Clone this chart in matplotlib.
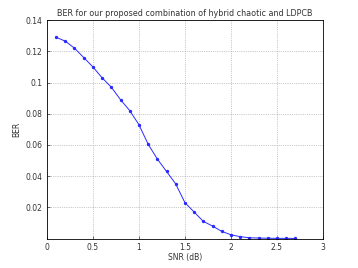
"""
Curva BER vs SNR (estilo MATLAB)
"""
import matplotlib
matplotlib.use('Agg')
import matplotlib.pyplot as plt

snr = [0.1, 0.2, 0.3, 0.4, 0.5, 0.6, 0.7, 0.8, 0.9, 1.0,
       1.1, 1.2, 1.3, 1.4, 1.5, 1.6, 1.7, 1.8, 1.9, 2.0,
       2.1, 2.2, 2.3, 2.4, 2.5, 2.6, 2.7]
ber = [0.129, 0.1265, 0.122, 0.116, 0.110, 0.103, 0.097, 0.089, 0.082, 0.073,
       0.0605, 0.051, 0.043, 0.035, 0.023, 0.017, 0.011, 0.008, 0.0046, 0.0024,
       0.0012, 0.0005, 0.0003, 0.0002, 0.0001, 0.0001, 0.00005]

xticks = [0, 0.5, 1, 1.5, 2, 2.5, 3]
yticks = [0.02, 0.04, 0.06, 0.08, 0.1, 0.12, 0.14]

fig = plt.figure(figsize=(3.58, 2.68), dpi=100)
ax = fig.add_axes([0.131, 0.110, 0.771, 0.815])

ax.plot(snr, ber, color='#2a2aff', linewidth=0.7, marker='.', markersize=2.8)

ax.set_xlim(0, 3)
ax.set_ylim(0, 0.14)
ax.set_xticks(xticks)
ax.set_xticklabels(['0', '0.5', '1', '1.5', '2', '2.5', '3'])
ax.set_yticks(yticks)
ax.set_yticklabels(['0.02', '0.04', '0.06', '0.08', '0.1', '0.12', '0.14'])
ax.tick_params(labelsize=5.5, direction='in', length=2, width=0.5, colors='#333333')
ax.grid(True, linestyle=':', linewidth=0.5, color='#999999')
for s in ax.spines.values():
    s.set_linewidth(0.6)

ax.set_xlabel('SNR (dB)', fontsize=5.5, labelpad=0.5, color='#333333')
ax.set_ylabel('BER', fontsize=5.5, labelpad=3, color='#333333')
ax.set_title('BER for our proposed combination of hybrid chaotic and LDPCB',
             fontsize=5.8, pad=3, color='#333333')

plt.savefig('out.png', dpi=100)
